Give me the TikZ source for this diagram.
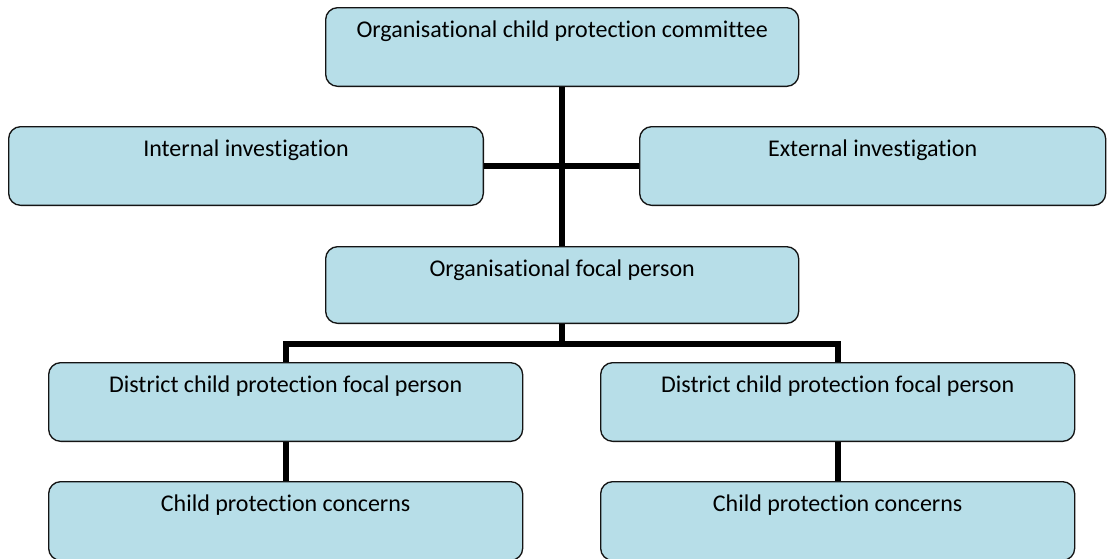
\documentclass[tikz,border=0pt]{standalone}
\usepackage{fontspec}
\setmainfont{Carlito}[Ligatures=NoCommon]
\definecolor{boxblue}{RGB}{183,222,232}
\tikzset{every picture/.style={line width=0.75pt}}
\tikzset{
  orgbox/.style={draw={rgb, 255:red, 20; green, 20; blue, 20}, fill=boxblue, rounded corners=9pt,
    anchor=north west, inner sep=0pt, text height=22.5pt, text depth=36.5pt,
    font=\fontsize{18}{21}\selectfont, line width=1pt},
  link/.style={line width=4.5pt, draw=black}
}

\begin{document}
\begin{tikzpicture}[x=0.75pt,y=0.75pt,yscale=-1,xscale=1]
	\path[use as bounding box] (0,0) rectangle (1107,558); %set diagram to 1107 x 558

	%Shape: Rounded Rectangle
	\node [orgbox, minimum width=354.75pt] (committee) at (325,7) {Organisational child protection committee};
	%Shape: Rounded Rectangle
	\node [orgbox, minimum width=356pt] (internal) at (8,126) {Internal investigation};
	%Shape: Rounded Rectangle
	\node [orgbox, minimum width=349.5pt] (external) at (639,126) {External investigation};
	%Shape: Rounded Rectangle
	\node [orgbox, minimum width=354.75pt, text depth=35pt] (focal) at (325,246) {Organisational focal person};
	%Shape: Rounded Rectangle
	\node [orgbox, minimum width=355.5pt] (districtL) at (48,362) {District child protection focal person};
	%Shape: Rounded Rectangle
	\node [orgbox, minimum width=355.5pt] (districtR) at (600,362) {District child protection focal person};
	%Shape: Rounded Rectangle
	\node [orgbox, minimum width=355.5pt] (concernsL) at (48,481) {Child protection concerns};
	%Shape: Rounded Rectangle
	\node [orgbox, minimum width=355.5pt] (concernsR) at (600,481) {Child protection concerns};

	%Straight Lines
	\draw [link] (committee.south) -- (focal.north);
	\draw [link] (internal.east) -- (external.west);
	\draw [link] (focal.south) -- ++(0,20) coordinate (split) -| (districtL.north);
	\draw [link] (split) -| (districtR.north);
	\draw [link] (districtL.south) -- (concernsL.north);
	\draw [link] (districtR.south) -- (concernsR.north);

\end{tikzpicture}
\end{document}
